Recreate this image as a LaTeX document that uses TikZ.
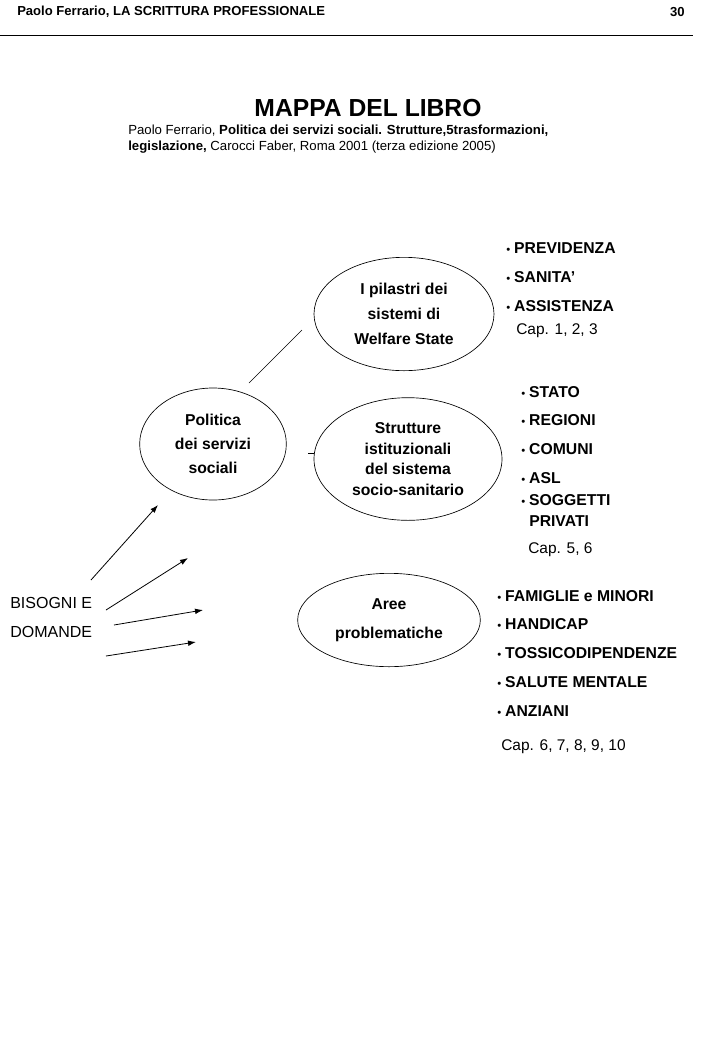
\documentclass[tikz,border=0pt]{standalone}
\usepackage{fontspec}
\setmainfont{Liberation Sans}
\usetikzlibrary{shapes.geometric,arrows.meta}

\tikzset{
  bolla/.style={draw, ellipse, line width=0.5pt, inner sep=0pt, align=center},
  voce/.style={anchor=west, inner sep=0pt, font=\bfseries\fontsize{11.8}{13}\selectfont},
  capitoli/.style={anchor=west, inner sep=0pt, font=\fontsize{11.6}{13}\selectfont},
  freccia/.style={-{Latex[length=6pt,width=4.2pt]}, line width=0.6pt},
  filo/.style={line width=0.5pt},
}
\newcommand{\punto}{{\mdseries\fontsize{8.5}{9}\selectfont\textbullet}\hspace{3pt}}

\begin{document}
\begin{tikzpicture}[x=0.75pt,y=-0.75pt]
\useasboundingbox (0,0) rectangle (720,1040);

% testata della pagina
\draw (17,12) node[anchor=west, inner sep=0pt, font=\bfseries\fontsize{9.8}{11}\selectfont] (testata) {Paolo Ferrario, LA SCRITTURA PROFESSIONALE};
\draw (685,12) node[anchor=east, inner sep=0pt, font=\bfseries\fontsize{9.8}{11}\selectfont] (pagina) {30};
\draw[filo] (0,35) -- (693,35);

% titolo
\draw (368,108) node[font=\bfseries\fontsize{18.5}{21}\selectfont] (titolo) {MAPPA DEL LIBRO};
\draw (128,131) node[anchor=west, inner sep=0pt, font=\fontsize{9.9}{11}\selectfont] (rif1) {Paolo Ferrario, \textbf{Politica dei servizi sociali. Strutture,5trasformazioni,}};
\draw (128,147) node[anchor=west, inner sep=0pt, font=\fontsize{9.9}{11}\selectfont] (rif2) {\textbf{legislazione,} Carocci Faber, Roma 2001 (terza edizione 2005)};

% le bolle
\draw (404,314) node[bolla, minimum width=135pt, minimum height=85pt, font=\bfseries\fontsize{11.8}{18.75}\selectfont] (pilastri) {I pilastri dei\\sistemi di\\Welfare State};
\draw (213,444) node[bolla, minimum width=110pt, minimum height=84pt, font=\bfseries\fontsize{11.8}{18}\selectfont] (politica) {Politica\\dei servizi\\sociali};
\draw (408,459) node[bolla, minimum width=141pt, minimum height=92pt, font=\bfseries\fontsize{11.8}{15.3}\selectfont] (strutture) {Strutture\\istituzionali\\del sistema\\socio-sanitario};
\draw (389,620) node[bolla, minimum width=137pt, minimum height=70pt, font=\bfseries\fontsize{11.8}{21.75}\selectfont] (aree) {Aree\\problematiche};

% collegamenti
\coordinate (l1a) at (249,383);
\coordinate (l1b) at (302,330);
\path[filo] (l1a) edge (l1b);
\coordinate (l2a) at (308,453);
\coordinate (l2b) at (314,453);
\path[filo] (l2a) edge (l2b);

% bisogni e domande
\draw (10,603) node[anchor=west, inner sep=0pt, font=\fontsize{12}{13}\selectfont] (bisogni) {BISOGNI E};
\draw (10,632) node[anchor=west, inner sep=0pt, font=\fontsize{12}{13}\selectfont] (domande) {DOMANDE};

\coordinate (f1a) at (91,580);  \coordinate (f1b) at (158,505);
\coordinate (f2a) at (106,610); \coordinate (f2b) at (188,558);
\coordinate (f3a) at (114,625); \coordinate (f3b) at (203,610);
\coordinate (f4a) at (106,656); \coordinate (f4b) at (196,642);
\path[freccia] (f1a) edge (f1b);
\path[freccia] (f2a) edge (f2b);
\path[freccia] (f3a) edge (f3b);
\path[freccia] (f4a) edge (f4b);

% elenchi
\draw (506,248) node[voce] (prev) {\punto PREVIDENZA};
\draw (506,277) node[voce] (sanita) {\punto SANITA’};
\draw (506,306) node[voce] (assist) {\punto ASSISTENZA};
\draw (516,331) node[capitoli] (cap1) {Cap. 1, 2, 3};

\draw (521,392) node[voce] (stato) {\punto STATO};
\draw (521,420) node[voce] (regioni) {\punto REGIONI};
\draw (521,449) node[voce] (comuni) {\punto COMUNI};
\draw (521,478) node[voce] (asl) {\punto ASL};
\draw (521,500) node[voce] (soggetti) {\punto SOGGETTI};
\draw (529,521) node[voce] (privati) {PRIVATI};
\draw (528,550) node[capitoli] (cap2) {Cap. 5, 6};

\draw (497,596) node[voce] (famiglie) {\punto FAMIGLIE e MINORI};
\draw (497,624) node[voce] (handicap) {\punto HANDICAP};
\draw (497,653) node[voce] (tossico) {\punto TOSSICODIPENDENZE};
\draw (497,682) node[voce] (salute) {\punto SALUTE MENTALE};
\draw (497,711) node[voce] (anziani) {\punto ANZIANI};
\draw (501,747) node[capitoli] (cap3) {Cap. 6, 7, 8, 9, 10};

\end{tikzpicture}
\end{document}
